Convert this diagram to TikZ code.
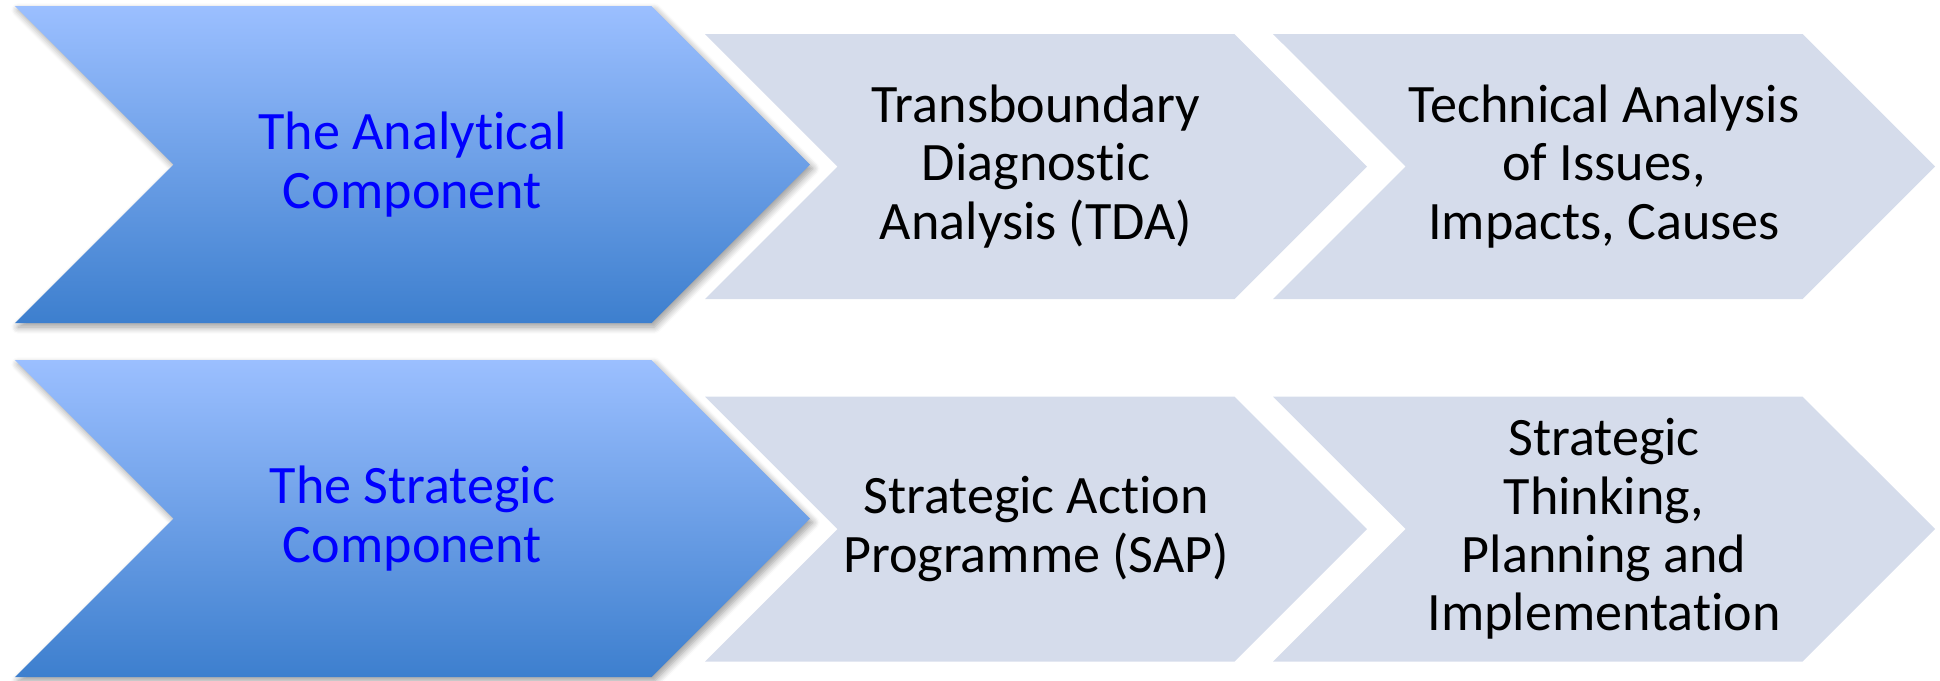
\documentclass[tikz,border=0pt]{standalone}
\usepackage{fontspec}
\setmainfont{Carlito}[Ligatures={NoCommon}]
\usetikzlibrary{shapes.symbols, shadows.blur}
\definecolor{chevlight}{HTML}{9BBFFF}
\definecolor{chevdark}{HTML}{3D7FCE}
\definecolor{stagegray}{HTML}{D5DCEB}
\tikzstyle{component} = [signal, signal from=west, signal to=east, signal pointer angle=90, minimum width=7.95cm, minimum height=3.17cm, inner sep=0pt, align=center, text=blue, top color=chevlight, bottom color=chevdark, blur shadow={shadow xshift=0.03cm, shadow yshift=-0.04cm, shadow blur steps=6, shadow opacity=40}]
\tikzstyle{stage} = [signal, signal from=west, signal to=east, signal pointer angle=90, minimum width=6.62cm, minimum height=2.65cm, inner sep=0pt, align=center, text=black, fill=stagegray]

\begin{document}
\begin{tikzpicture}[node distance=3.54cm, font=\fontsize{15.4}{16.6}\selectfont]
    \useasboundingbox (-4.125,1.645) rectangle (15.275,-5.155);
    \node (ana) [component] {The Analytical\\Component};
    \node (tda) [stage, right of=ana, xshift=2.695cm, yshift=-0.02cm] {Transboundary\\Diagnostic\\Analysis (TDA)};
    \node (tech) [stage, right of=tda, xshift=2.14cm] {Technical Analysis\\of Issues,\\Impacts, Causes};
    \node (str) [component, below of=ana] {The Strategic\\Component};
    \node (sap) [stage, right of=str, xshift=2.695cm, yshift=-0.105cm] {Strategic Action\\Programme (SAP)};
    \node (plan) [stage, right of=sap, xshift=2.14cm] {Strategic\\Thinking,\\Planning and\\Implementation};
\end{tikzpicture}
\end{document}
